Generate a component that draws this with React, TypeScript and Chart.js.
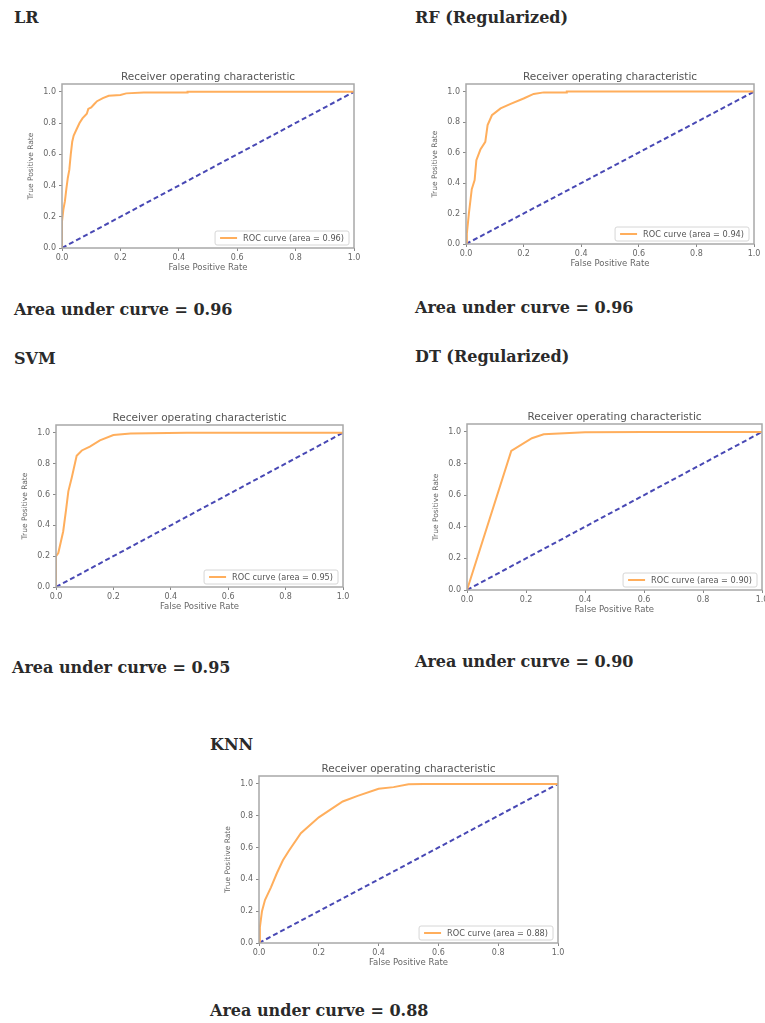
import React, { useEffect, useRef } from "react";
import { Chart, registerables } from "chart.js";
Chart.register(...registerables);

// ---------- data ----------
const TICKS = [0, 0.2, 0.4, 0.6, 0.8, 1.0];
const DIAG_FPR = [0, 1];
const DIAG_TPR = [0, 1];

const LR_FPR = [0, 0, 0.005, 0.01, 0.015, 0.02, 0.025, 0.03, 0.035, 0.04, 0.05, 0.06, 0.07, 0.085, 0.09, 0.1, 0.11, 0.12, 0.14, 0.16, 0.2, 0.22, 0.28, 0.43, 0.43, 1];
const LR_TPR = [0, 0.17, 0.25, 0.3, 0.38, 0.45, 0.5, 0.6, 0.68, 0.72, 0.76, 0.8, 0.83, 0.86, 0.89, 0.9, 0.92, 0.94, 0.96, 0.975, 0.98, 0.99, 0.995, 0.995, 1.0, 1.0];

const RF_FPR = [0, 0.003, 0.01, 0.02, 0.03, 0.036, 0.05, 0.067, 0.075, 0.09, 0.12, 0.155, 0.2, 0.235, 0.27, 0.35, 0.35, 1];
const RF_TPR = [0, 0.07, 0.2, 0.36, 0.42, 0.55, 0.62, 0.67, 0.78, 0.845, 0.89, 0.92, 0.955, 0.985, 0.995, 0.995, 1.0, 1.0];

const SVM_FPR = [0, 0, 0.008, 0.025, 0.035, 0.043, 0.055, 0.072, 0.09, 0.118, 0.153, 0.2, 0.26, 0.455, 1];
const SVM_TPR = [0, 0.2, 0.22, 0.36, 0.5, 0.62, 0.71, 0.85, 0.885, 0.91, 0.95, 0.985, 0.995, 1.0, 1.0];

const DT_FPR = [0, 0.15, 0.22, 0.26, 0.4, 0.6, 1];
const DT_TPR = [0, 0.88, 0.96, 0.985, 0.998, 1.0, 1.0];

const KNN_FPR = [0, 0.003, 0.01, 0.02, 0.04, 0.06, 0.08, 0.1, 0.14, 0.2, 0.28, 0.33, 0.4, 0.45, 0.5, 0.55, 1];
const KNN_TPR = [0, 0.1, 0.2, 0.27, 0.35, 0.44, 0.52, 0.58, 0.69, 0.79, 0.89, 0.925, 0.97, 0.98, 0.998, 1.0, 1.0];

const MODEL_NAMES = ["LR", "RF (Regularized)", "SVM", "DT (Regularized)", "KNN"];
const LEGEND_AREAS = ["0.96", "0.94", "0.95", "0.90", "0.88"];
const AUC_VALUES = ["0.96", "0.96", "0.95", "0.90", "0.88"];

const CHART_TITLE = "Receiver operating characteristic";
const X_LABEL = "False Positive Rate";
const Y_LABEL = "True Positive Rate";

// ---------- layout (positions only) ----------
const PLOTS = [
  { left: 62, top: 84, width: 292, height: 164 },
  { left: 466, top: 84, width: 288, height: 160 },
  { left: 56, top: 425, width: 287, height: 162 },
  { left: 467, top: 424, width: 295, height: 166 },
  { left: 259, top: 776, width: 299, height: 167 },
];
const HEADINGS = [
  { x: 14, y: 18 },
  { x: 415, y: 18 },
  { x: 14, y: 359 },
  { x: 415, y: 357 },
  { x: 210, y: 745 },
];
const AUC_POS = [
  { x: 14, y: 310 },
  { x: 415, y: 308 },
  { x: 12, y: 668 },
  { x: 415, y: 662 },
  { x: 210, y: 1011 },
];

const ML = 45; // left margin (y axis)
const MR = 45; // right spacer axis (keeps title centred over plot)
const MT = 22; // title band
const MB = 32; // x axis band

const ORANGE = "#ffae5c";
const NAVY = "#4848b4";
const FONT = "'DejaVu Sans'";

const framePlugin = {
  id: "frame",
  afterDatasetsDraw(chart: any) {
    const { ctx, chartArea: a } = chart;
    ctx.save();
    ctx.strokeStyle = "#a8a8a8";
    ctx.lineWidth = 1.5;
    ctx.strokeRect(a.left, a.top, a.right - a.left, a.bottom - a.top);
    ctx.restore();
  },
};

const legendPlugin = {
  id: "insideLegend",
  afterDraw(chart: any) {
    const { ctx, chartArea: a } = chart;
    const ds = chart.data.datasets[0];
    ctx.save();
    ctx.font = `8.2px ${FONT}`;
    const tw = ctx.measureText(ds.label).width;
    const h = 14;
    const w = 5 + 17 + 6 + tw + 5;
    const x = a.right - 5 - w;
    const y = a.bottom - 3 - h;
    ctx.fillStyle = "rgba(255,255,255,0.9)";
    ctx.strokeStyle = "#d6d6d6";
    ctx.lineWidth = 1;
    ctx.beginPath();
    (ctx as any).roundRect ? (ctx as any).roundRect(x, y, w, h, 2) : ctx.rect(x, y, w, h);
    ctx.fill();
    ctx.stroke();
    ctx.strokeStyle = ds.borderColor;
    ctx.lineWidth = 2;
    ctx.beginPath();
    ctx.moveTo(x + 5, y + h / 2);
    ctx.lineTo(x + 22, y + h / 2);
    ctx.stroke();
    ctx.fillStyle = "#555";
    ctx.textBaseline = "middle";
    ctx.fillText(ds.label, x + 28, y + h / 2 + 0.5);
    ctx.restore();
  },
};

function RocChart({ fpr, tpr, area, box }: any) {
  const ref = useRef<HTMLCanvasElement>(null);
  const W = box.width + ML + MR;
  const H = box.height + MT + MB;
  useEffect(() => {
    if (!ref.current) return;
    const setTicks = (s: any) => {
      s.ticks = TICKS.map((v) => ({ value: v }));
    };
    const tickFont = { family: FONT, size: 8 };
    const chart = new Chart(ref.current, {
      type: "scatter",
      data: {
        datasets: [
          {
            label: `ROC curve (area = ${area})`,
            data: fpr.map((x: number, i: number) => ({ x, y: tpr[i] })),
            showLine: true,
            borderColor: ORANGE,
            backgroundColor: ORANGE,
            borderWidth: 2,
            pointRadius: 0,
            tension: 0,
          },
          {
            label: "chance",
            data: DIAG_FPR.map((x, i) => ({ x, y: DIAG_TPR[i] })),
            showLine: true,
            borderColor: NAVY,
            backgroundColor: NAVY,
            borderWidth: 2,
            borderDash: [5, 3],
            pointRadius: 0,
          },
        ],
      },
      options: {
        animation: false,
        responsive: false,
        devicePixelRatio: 1,
        layout: { padding: 0 },
        plugins: {
          legend: { display: false },
          tooltip: { enabled: false },
          title: {
            display: true,
            text: CHART_TITLE,
            color: "#555",
            font: { family: FONT, size: 10.5, weight: "normal", lineHeight: 1.2 },
            padding: { top: 9.4, bottom: 0 },
          },
        },
        scales: {
          x: {
            type: "linear",
            min: 0,
            max: 1,
            afterBuildTicks: setTicks,
            afterFit: (s: any) => {
              s.height = MB;
            },
            grid: { display: true, drawOnChartArea: false, drawTicks: true, tickLength: 3, color: "#888" },
            border: { display: false },
            ticks: {
              color: "#666",
              font: tickFont,
              padding: 2,
              maxRotation: 0,
              callback: (v: any) => Number(v).toFixed(1),
            },
            title: {
              display: true,
              text: X_LABEL,
              color: "#666",
              font: { family: FONT, size: 8.5, lineHeight: 1.2 },
              padding: { top: 0, bottom: 7.5 },
            },
          },
          y: {
            type: "linear",
            min: 0,
            max: 1.05,
            afterBuildTicks: setTicks,
            afterFit: (s: any) => {
              s.width = ML;
            },
            grid: { display: true, drawOnChartArea: false, drawTicks: true, tickLength: 3, color: "#888" },
            border: { display: false },
            ticks: {
              color: "#666",
              font: tickFont,
              padding: 3,
              callback: (v: any) => Number(v).toFixed(1),
            },
            title: {
              display: true,
              text: Y_LABEL,
              color: "#666",
              font: { family: FONT, size: 7.5, lineHeight: 1.2 },
              padding: { top: 10, bottom: 0 },
            },
          },
          ySpacer: {
            type: "linear",
            position: "right",
            min: 0,
            max: 1,
            display: true,
            afterFit: (s: any) => {
              s.width = MR;
            },
            grid: { display: false },
            border: { display: false },
            ticks: { display: false },
            title: { display: false },
          },
        },
      },
      plugins: [framePlugin, legendPlugin],
    } as any);
    return () => chart.destroy();
  }, [fpr, tpr, area]);
  return (
    <canvas
      ref={ref}
      width={W}
      height={H}
      style={{ position: "absolute", left: box.left - ML, top: box.top - MT, width: W, height: H }}
    />
  );
}

const textStyle = (p: { x: number; y: number }): React.CSSProperties => ({
  position: "absolute",
  left: p.x,
  top: p.y - 10,
  lineHeight: "20px",
  fontFamily: "'DejaVu Serif', serif",
  fontSize: 16,
  fontWeight: "bold",
  color: "#2a2a2a",
  whiteSpace: "nowrap",
});

const SERIES = [
  [LR_FPR, LR_TPR],
  [RF_FPR, RF_TPR],
  [SVM_FPR, SVM_TPR],
  [DT_FPR, DT_TPR],
  [KNN_FPR, KNN_TPR],
];

export default function App() {
  return (
    <div
      style={{
        position: "absolute",
        left: 0,
        top: 0,
        width: 765,
        height: 1023,
        overflow: "hidden",
        background: "#fff",
      }}
    >
      {MODEL_NAMES.map((name, i) => (
        <React.Fragment key={name}>
          <div style={textStyle(HEADINGS[i])}>{name}</div>
          <RocChart fpr={SERIES[i][0]} tpr={SERIES[i][1]} area={LEGEND_AREAS[i]} box={PLOTS[i]} />
          <div style={textStyle(AUC_POS[i])}>{`Area under curve = ${AUC_VALUES[i]}`}</div>
        </React.Fragment>
      ))}
    </div>
  );
}
